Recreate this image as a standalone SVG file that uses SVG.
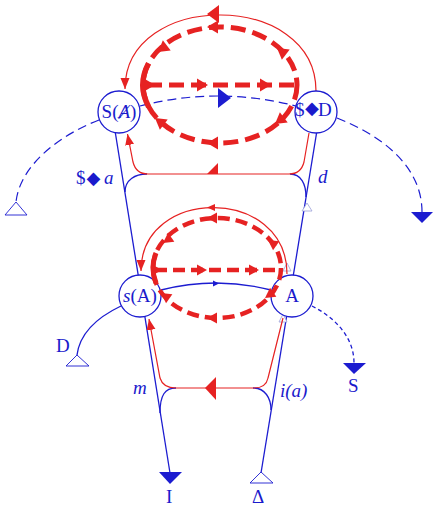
<svg xmlns="http://www.w3.org/2000/svg" xmlns:xlink="http://www.w3.org/1999/xlink" width="442" height="517" viewBox="0 0 442 517">
<style>
.bl{fill:none;stroke:#1c1cd0;stroke-width:1.3}
.bd{fill:none;stroke:#1c1cd0;stroke-width:1.2;stroke-dasharray:9 5}
.rd{fill:none;stroke:#e62222;stroke-width:1.2}
.rdt{fill:none;stroke:#e62222;stroke-width:5;stroke-dasharray:15 7}
.rdl{fill:none;stroke:#e62222;stroke-width:4.5;stroke-dasharray:12 6}
.rf{fill:#e62222}
.bf{fill:#1c1cd0}
.node{fill:#fff;stroke:#1c1cd0;stroke-width:1.3}
.faint{fill:#fff;stroke:#9aa0d8;stroke-width:0.8}
text{font-family:"Liberation Serif","DejaVu Serif",serif;font-size:19px;fill:#1a1acc}
.it{font-style:italic}
.dia{font-family:"DejaVu Sans",sans-serif;font-size:18px}
</style>
<defs>
<marker id="rh" markerUnits="userSpaceOnUse" markerWidth="12" markerHeight="10" refX="11" refY="4.5" orient="auto"><path d="M0,0 L11,4.5 L0,9 Z" fill="#e62222"/></marker>
<path id="ah" d="M0,0 L-11,-6.5 L-11,6.5 Z" fill="#e62222"/>
<path id="ahs" d="M0,0 L-10,-5.5 L-10,5.5 Z" fill="#e62222"/>
</defs>
<g id="connectors">
<path class="bl" d="M112,112 L170,473"/>
<path class="bl" d="M320,112 L261,473"/>
<path class="bl" d="M125,192 C125,180 135,174 147,174"/>
<path class="bl" d="M290,174 C301,174 306,184 306,197"/>
<path class="bl" d="M160,413 C160,395 165,388 176,388"/>
<path class="bl" d="M253,388 C265,388 271,398 271,410"/>
<path class="bl" d="M161,290 Q216,276 271,290"/>
<path class="bf" d="M219,283.5 L213,280.5 L213,286.5 Z"/>
<path class="bl" d="M121,306 C100,316 80,332 77,355"/>
<path class="bl" d="M312,306 C332,316 354,335 354,363" stroke-dasharray="4 3"/>
<path class="bd" d="M140,106 Q218,86 296,106"/>
<path class="bf" d="M231,98 L218,88 L218,108 Z"/>
<path class="bd" d="M99,120 C60,135 20,165 16,202"/>
<path class="bd" d="M337,118 C380,135 422,165 422,212"/>
<path d="M16,202 L5,215 L27,215 Z" fill="#fff" stroke="#1c1cd0" stroke-width="0.9"/>
<path class="bf" d="M411,212 L433,212 L422,223 Z"/>
<path d="M77,355 L66,366 L89,366 Z" fill="#fff" stroke="#1c1cd0" stroke-width="0.9"/>
<path class="bf" d="M343,363 L366,363 L354,374 Z"/>
<path class="bf" d="M159,472 L182,472 L170,484 Z"/>
<path d="M261,472 L250,483 L273,483 Z" fill="#fff" stroke="#1c1cd0" stroke-width="0.9"/>
<path class="faint" d="M307,203 L302,211 L312,211 Z"/>
<path class="faint" d="M287,263 L283,271 L291,271 Z"/>
<path class="faint" d="M283,314 L279,322 L287,322 Z"/>
<path class="rd" d="M316,91 C316,-10 125,-10 125,89" marker-end="url(#rh)"/>
<path class="rf" d="M207,14 L219,5 L219,23 Z"/>
<path class="rd" d="M309,133 L304,162 Q301,174 289,174 L148,174 Q136,174 133,162 L127.5,134" marker-end="url(#rh)"/>
<path class="rf" d="M207,174 L218,163 L218,174 Z"/>
<path class="rd" d="M287,274 C287,186 141,186 141,271" marker-end="url(#rh)"/>
<path class="rf" d="M207,207.5 L215,204 L215,211 Z"/>
<path class="rd" d="M283,318 L268,378 Q266,388 254,388 L176,388 Q163,388 160,378 L149,319" marker-end="url(#rh)"/>
<path class="rf" d="M205,388 L216,377 L216,400 Z"/>
</g>
<g id="node-SA"><circle class="node" cx="119" cy="112" r="21"/><text x="119" y="118" text-anchor="middle">S(<tspan class="it">Ⱥ</tspan>)</text></g>
<g id="node-SD"><circle class="node" cx="316" cy="112" r="21"/><text x="295" y="116">$</text><text x="305" y="114" class="dia">◆</text><text x="318" y="116">D</text></g>
<g id="node-sA"><circle class="node" cx="140" cy="296" r="21"/><text x="140" y="302" text-anchor="middle"><tspan class="it">s</tspan>(A)</text></g>
<g id="node-A"><circle class="node" cx="292" cy="296" r="21"/><text x="292" y="302" text-anchor="middle">A</text></g>
<g id="loops">
<ellipse class="rdt" cx="220" cy="85" rx="77" ry="58"/>
<path d="M148.6,63.3 A77,58 0 0 0 148.6,106.7" fill="none" stroke="#e62222" stroke-width="5.5"/>
<path class="rdt" d="M147,85 L297,85"/>
<use xlink:href="#ah" transform="translate(207,27) rotate(180)"/>
<use xlink:href="#ah" transform="translate(207,143) rotate(180)"/>
<use xlink:href="#ah" transform="translate(158,52) rotate(143)"/>
<use xlink:href="#ah" transform="translate(155,118) rotate(217)"/>
<use xlink:href="#ah" transform="translate(277,48) rotate(217)"/>
<use xlink:href="#ah" transform="translate(275,124) rotate(143)"/>
<use xlink:href="#ah" transform="translate(155,85)"/>
<use xlink:href="#ah" transform="translate(208,85)"/>
<use xlink:href="#ah" transform="translate(271,85)"/>
<ellipse class="rdl" cx="217" cy="268" rx="64" ry="50"/>
<path d="M156,253 A64,50 0 0 0 156,283" fill="none" stroke="#e62222" stroke-width="5"/>
<path class="rdl" d="M155,270 L281,270"/>
<use xlink:href="#ahs" transform="translate(207,218) rotate(180)"/>
<use xlink:href="#ahs" transform="translate(207,318) rotate(180)"/>
<use xlink:href="#ahs" transform="translate(163,243) rotate(145)"/>
<use xlink:href="#ahs" transform="translate(161,293) rotate(215)"/>
<use xlink:href="#ahs" transform="translate(268,240) rotate(215)"/>
<use xlink:href="#ahs" transform="translate(265,298) rotate(145)"/>
<use xlink:href="#ahs" transform="translate(162,270)"/>
<use xlink:href="#ahs" transform="translate(207,270)"/>
<use xlink:href="#ahs" transform="translate(259,270)"/>
</g>
<g id="labels">
<text x="76" y="184">$</text><text x="86.5" y="184" class="dia">◆</text><text x="104" y="184" class="it">a</text>
<text x="318" y="183" class="it">d</text>
<text x="133" y="394" class="it">m</text>
<text x="280" y="397" class="it">i(a)</text>
<text x="56" y="352">D</text>
<text x="348" y="392">S</text>
<text x="166" y="503">I</text>
<text x="252" y="503">Δ</text>
</g>
</svg>
